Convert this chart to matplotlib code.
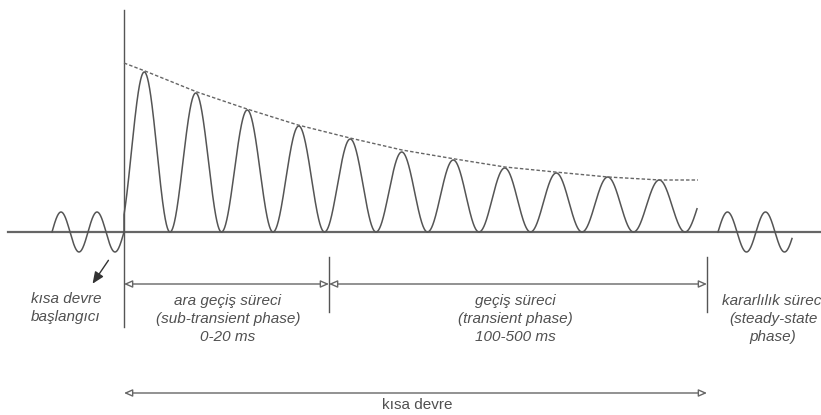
import numpy as np
import matplotlib.pyplot as plt
from matplotlib.patches import FancyArrowPatch

# waveform readings (x in px along the time axis, heights in px above the zero line)
pre_start, pre_end, pre_amp, pre_cycles = 52, 124, 20, 2
fault_start, fault_end = 124, 697
first_min, period = 170, 51.5
peak_amp = [160, 139, 122, 106, 93, 80, 72, 64, 59, 55, 52, 52]
post_start, post_end, post_amp, post_period = 718, 792, 20, 38

env_x = [124, 145, 197, 247, 298, 350, 402, 455, 505, 555, 608, 660, 698]
env_y = [169, 161, 140, 123, 107, 94, 82, 73, 65, 60, 55, 52, 52]

bounds = [124, 329, 707]
phase_labels = ["ara geçiş süreci\n(sub-transient phase)\n0-20 ms",
                "geçiş süreci\n(transient phase)\n100-500 ms"]
label_x = [228, 515]
start_label = "kısa devre\nbaşlangıcı"
steady_label = "kararlılık süreci\n(steady-state\nphase)"
total_label = "kısa devre"

plt.rcParams['font.family'] = ['Liberation Sans', 'DejaVu Sans']
line_c = '#555555'
text_c = '#505050'

fig = plt.figure(figsize=(8.21, 4.15), dpi=100)
ax = fig.add_axes([0, 0, 1, 1])
ax.set_xlim(0, 821)
ax.set_ylim(232 - 415, 232)
ax.axis('off')

# zero line and fault instant
ax.plot([8, 821], [0, 0], color='#666666', lw=1.6, zorder=1)
ax.plot([124, 124], [222, -95], color=line_c, lw=1.0)

# pre-fault sine
x = np.linspace(pre_start, pre_end, 300)
ax.plot(x, pre_amp * np.sin(2 * np.pi * pre_cycles * (x - pre_start) / (pre_end - pre_start)),
        color=line_c, lw=1.1)

# fault current (fully offset)
x = np.linspace(fault_start, fault_end, 3000)
x0 = first_min - period
k = np.floor((x - x0) / period).astype(int)
ph = (x - x0) / period - k
amp = np.array(peak_amp)[k]
y = amp * (1 - np.cos(2 * np.pi * ph)) / 2
ax.plot(np.r_[fault_start, x], np.r_[0, y], color=line_c, lw=1.1)

# envelope
ax.plot(env_x, env_y, color='#666666', lw=1.0, ls=(0, (2.5, 1.5)))

# steady-state sine
x = np.linspace(post_start, post_end, 300)
ax.plot(x, post_amp * np.sin(2 * np.pi * (x - post_start) / post_period), color=line_c, lw=1.1)

# phase boundaries and dimension arrows
for b in bounds[1:]:
    ax.plot([b, b], [-25, -80], color=line_c, lw=1.0)


def dim_arrow(x1, x2, yy):
    a = FancyArrowPatch((x1, yy), (x2, yy), arrowstyle='<|-|>,head_length=5,head_width=2.2',
                        mutation_scale=1, lw=1.0, ec='#666666', fc='white', shrinkA=0, shrinkB=0)
    ax.add_patch(a)


for i in range(len(bounds) - 1):
    dim_arrow(bounds[i], bounds[i + 1], -52)
dim_arrow(bounds[0], bounds[-1], -161)

tkw = dict(ha='center', va='center', color=text_c, fontsize=11, linespacing=1.4)
for lx, lab in zip(label_x, phase_labels):
    ax.text(lx, -87, lab, style='italic', **tkw)
ax.text(66, -76, start_label, style='italic', **tkw)
ax.text(773, -87, steady_label, style='italic', **tkw)
ax.text(417, -173, total_label, **tkw)

ax.annotate('', xy=(91, -54), xytext=(110, -26),
            arrowprops=dict(arrowstyle='-|>,head_length=0.7,head_width=0.3', color='#333333', lw=1.0))

fig.savefig('out.png', dpi=100)
